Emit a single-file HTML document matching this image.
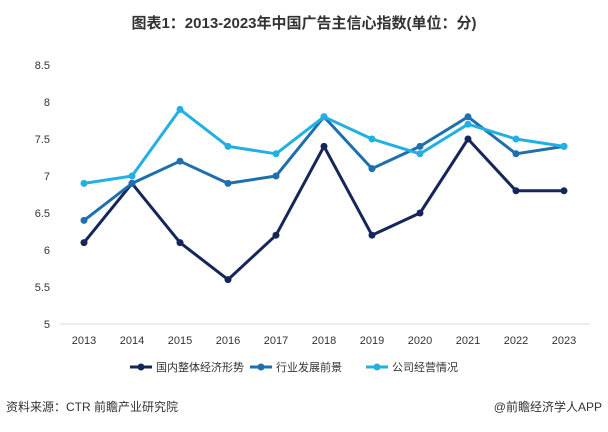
<!DOCTYPE html>
<html><head><meta charset="utf-8"><style>
body{margin:0;background:#fff;width:608px;height:427px;overflow:hidden;font-family:"Liberation Sans","Noto Sans CJK SC",sans-serif;}
</style></head><body>
<svg width="608" height="427" xmlns="http://www.w3.org/2000/svg">
<text x="304" y="28" text-anchor="middle" font-size="15" font-weight="bold" fill="#333" font-family="Liberation Sans,Noto Sans CJK SC,sans-serif">图表1：2013-2023年中国广告主信心指数(单位：分)</text>
<g id="yaxis"></g>
<g id="xaxis"></g>
<g id="series"></g>
<g id="legend"></g>
<text x="6" y="411" font-size="12" fill="#333">资料来源：CTR 前瞻产业研究院</text>
<text x="602" y="411" text-anchor="end" font-size="12" fill="#333">@前瞻经济学人APP</text>
</svg>
<script>
const years=["2013","2014","2015","2016","2017","2018","2019","2020","2021","2022","2023"];
const yTicks=[5,5.5,6,6.5,7,7.5,8,8.5];
const seriesNames=["国内整体经济形势","行业发展前景","公司经营情况"];
const economy=[6.1,6.9,6.1,5.6,6.2,7.4,6.2,6.5,7.5,6.8,6.8];
const industry=[6.4,6.9,7.2,6.9,7.0,7.8,7.1,7.4,7.8,7.3,7.4];
const company=[6.9,7.0,7.9,7.4,7.3,7.8,7.5,7.3,7.7,7.5,7.4];
const colors=["#15275a","#1f6fad","#22b0e3"];
const NS="http://www.w3.org/2000/svg";
function xS(i){return 84+i*48;}
function yS(v){return 324-(v-5)*(259/3.5);}
function mk(tag,attrs,parent){const e=document.createElementNS(NS,tag);for(const k in attrs)e.setAttribute(k,attrs[k]);parent.appendChild(e);return e;}
const ya=document.getElementById('yaxis'),xa=document.getElementById('xaxis'),sg=document.getElementById('series'),lg=document.getElementById('legend');
yTicks.forEach(t=>{const e=mk('text',{x:50,y:yS(t)+4,'text-anchor':'end','font-size':11,fill:'#333'},ya);e.textContent=String(t);

});
const al=mk('line',{x1:60,x2:590,y1:324,y2:324,stroke:'#d9d9d9','stroke-width':1},xa);


years.forEach((y,i)=>{const e=mk('text',{x:xS(i),y:344,'text-anchor':'middle','font-size':11,fill:'#333'},xa);e.textContent=y;

});
[economy,industry,company].forEach((d,s)=>{
const p=mk('polyline',{points:d.map((v,i)=>xS(i)+','+yS(v)).join(' '),fill:'none',stroke:colors[s],'stroke-width':3,'stroke-linejoin':'round'},sg);


d.forEach((v,i)=>{const c=mk('circle',{cx:xS(i),cy:yS(v),r:3.5,fill:colors[s]},sg);

});
});
const lx=[158,278,394];
seriesNames.forEach((n,s)=>{
const l=mk('line',{x1:lx[s]-28,x2:lx[s]-6,y1:367,y2:367,stroke:colors[s],'stroke-width':3},lg);


const c=mk('circle',{cx:lx[s]-17,cy:367,r:3.5,fill:colors[s]},lg);


const t=mk('text',{x:lx[s]-2,y:371,'font-size':11,fill:'#333'},lg);t.textContent=n;


});
</script>
</body></html>
